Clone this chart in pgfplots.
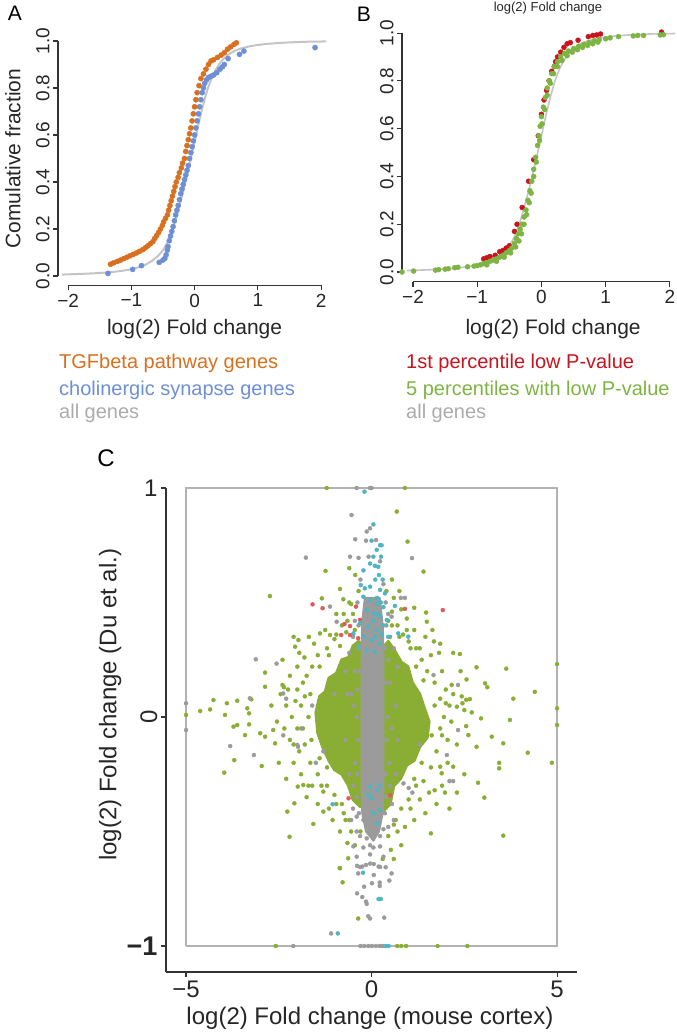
\documentclass[border=0pt]{standalone}
\usepackage{pgfplots}
\pgfplotsset{compat=1.18}
\usepackage{pgfplotstable}
\usepackage{fontspec}
\setmainfont{Liberation Sans}
\newcommand\fs[1]{\fontsize{#1}{#1}\selectfont}

\definecolor{tgf}{HTML}{D9701F}
\definecolor{chol}{HTML}{6C8FD6}
\definecolor{allc}{HTML}{C4C4C4}
\definecolor{allt}{HTML}{ABABAB}
\definecolor{pred}{HTML}{C8141E}
\definecolor{pgreen}{HTML}{7DB443}
\definecolor{cgreen}{HTML}{89AE33}
\definecolor{cgray}{HTML}{9B9B9B}
\definecolor{ccyan}{HTML}{4FB5C3}
\definecolor{cred}{HTML}{E05A5A}

\tikzset{axl/.style={line width=1.3pt, color=black!80}}
\pgfplotsset{rax/.style={scale only axis, clip=false,
  axis x line*=bottom, axis y line*=left, axis line style={draw=none},
  tick align=outside, major tick length=5pt, tick style={black!80, line width=1.1pt},
  ticklabel style={font=\fs{19}, text=black!85},
  label style={text=black!85}},
  cdot/.style={only marks, mark=*, mark size=2pt, mark options={draw=none}}}

% ECDF of all genes (grey curve, panels A and B)
\pgfplotstableread{
x y
-2.1 0.006
-1.9 0.008
-1.7 0.010
-1.5 0.013
-1.3 0.017
-1.1 0.024
-0.95 0.032
-0.8 0.045
-0.7 0.060
-0.6 0.080
-0.5 0.110
-0.4 0.160
-0.3 0.240
-0.2 0.340
-0.1 0.450
0.0 0.570
0.1 0.690
0.2 0.790
0.3 0.860
0.4 0.905
0.5 0.935
0.6 0.953
0.7 0.965
0.85 0.976
1.0 0.983
1.2 0.989
1.5 0.994
1.8 0.997
2.08 0.998
}\allgenes

\begin{document}
\begin{tikzpicture}
\useasboundingbox (0,0) rectangle (677pt,1034pt);

% ---------------- panel A
\begin{axis}[rax, at={(58pt,748.6pt)}, anchor=south west,
  width=273.2pt, height=253.8pt,
  xmin=-2.16, xmax=2.16, ymin=-0.04, ymax=1.04,
  xtick={-2,-1,0,1,2}, xticklabels={−2,−1,0,1,2},
  ytick={0,0.2,0.4,0.6,0.8,1}, yticklabels={0.0,0.2,0.4,0.6,0.8,1.0},
  yticklabel style={rotate=90, anchor=south},
  xlabel={log(2) Fold change}, ylabel={Comulative fraction},
  xlabel style={at={(axis description cs:0.5,-0.172)}, anchor=center, font=\fs{21}},
  ylabel style={at={(axis description cs:-0.165,0.5)}, anchor=center, font=\fs{21}},
]
\draw[axl] (axis cs:-2,-0.04) -- (axis cs:2,-0.04);
\draw[axl] (axis cs:-2.16,0) -- (axis cs:-2.16,1);
\addplot[only marks, mark=*, mark size=2.6pt, color=chol] coordinates {
(-1.37,0.011) (-0.98,0.028) (-0.84,0.044) (-0.56,0.058) (-0.50,0.068) (-0.47,0.075)
(-0.45,0.09) (-0.43,0.11) (-0.42,0.125) (-0.40,0.15) (-0.38,0.17) (-0.36,0.19)
(-0.34,0.21) (-0.32,0.235) (-0.30,0.26) (-0.28,0.28) (-0.26,0.30) (-0.24,0.325)
(-0.22,0.35) (-0.20,0.37) (-0.18,0.39) (-0.16,0.41) (-0.14,0.43) (-0.12,0.45)
(-0.10,0.47) (-0.08,0.50) (-0.06,0.525) (-0.04,0.55) (-0.02,0.575) (0.00,0.60)
(0.02,0.63) (0.04,0.66) (0.06,0.69) (0.08,0.72) (0.10,0.75) (0.12,0.78)
(0.14,0.80) (0.16,0.82) (0.19,0.835) (0.22,0.845) (0.26,0.85) (0.30,0.855)
(0.35,0.865) (0.40,0.88) (0.44,0.89) (0.47,0.90) (0.53,0.925) (0.71,0.943)
(0.78,0.957) (1.905,0.972)};
\addplot[only marks, mark=*, mark size=2.6pt, color=tgf] coordinates {
(-1.33,0.050) (-1.28,0.056) (-1.22,0.062) (-1.17,0.068) (-1.12,0.074) (-1.07,0.080)
(-1.02,0.086) (-0.97,0.092) (-0.92,0.098) (-0.87,0.105) (-0.82,0.112) (-0.78,0.120)
(-0.74,0.128) (-0.70,0.137) (-0.66,0.146) (-0.63,0.160) (-0.60,0.172) (-0.57,0.185)
(-0.54,0.200) (-0.51,0.215) (-0.49,0.230) (-0.46,0.245) (-0.43,0.260) (-0.41,0.280)
(-0.39,0.300) (-0.37,0.320) (-0.35,0.340) (-0.33,0.360) (-0.31,0.380) (-0.29,0.400)
(-0.26,0.420) (-0.24,0.440) (-0.21,0.460) (-0.19,0.480) (-0.16,0.500) (-0.14,0.530)
(-0.12,0.555) (-0.10,0.580) (-0.08,0.605) (-0.06,0.630) (-0.04,0.660) (-0.02,0.690)
(0.00,0.720) (0.02,0.750) (0.04,0.780) (0.07,0.810) (0.10,0.840) (0.14,0.860)
(0.18,0.880) (0.22,0.900) (0.26,0.915) (0.30,0.920) (0.36,0.930) (0.42,0.940)
(0.47,0.950) (0.52,0.965) (0.57,0.975) (0.62,0.985) (0.66,0.992)};
\addplot[smooth, color=allc, line width=2pt] table {\allgenes};
\end{axis}

% ---------------- panel B
\begin{axis}[rax, at={(402pt,752.4pt)}, anchor=south west,
  width=278.8pt, height=258.1pt,
  xmin=-2.171, xmax=2.17, ymin=-0.04, ymax=1.04,
  xtick={-2,-1,0,1,2}, xticklabels={−2,−1,0,1,2},
  ytick={0,0.2,0.4,0.6,0.8,1}, yticklabels={0.0,0.2,0.4,0.6,0.8,1.0},
  yticklabel style={rotate=90, anchor=south},
  xlabel={log(2) Fold change},
  xlabel style={at={(axis description cs:0.542,-0.184)}, anchor=center, font=\fs{21}},
]
\draw[axl] (axis cs:-2,-0.04) -- (axis cs:2,-0.04);
\draw[axl] (axis cs:-2.171,0) -- (axis cs:-2.171,1);
\addplot[only marks, mark=*, mark size=2.5pt, color=pred] coordinates {
(-0.90,0.055) (-0.85,0.060) (-0.80,0.065) (-0.72,0.070) (-0.65,0.085) (-0.60,0.090)
(-0.55,0.100) (-0.50,0.110) (-0.42,0.170) (-0.38,0.200) (-0.30,0.270) (-0.20,0.380)
(-0.12,0.470) (-0.05,0.570) (0.00,0.660) (0.04,0.720) (0.08,0.760) (0.12,0.800)
(0.16,0.840) (0.20,0.860) (0.22,0.880) (0.25,0.900) (0.30,0.920) (0.35,0.940)
(0.40,0.955) (0.45,0.960) (0.57,0.970) (0.73,0.985) (0.80,0.990) (0.86,0.992)
(0.92,0.996) (1.87,1.004)};
\addplot[only marks, mark=*, mark size=2.5pt, color=pgreen] coordinates {
(-2.17,0.0) (-1.99,0.004) (-1.65,0.008) (-1.60,0.010) (-1.50,0.012) (-1.45,0.014)
(-1.35,0.018) (-1.30,0.020) (-1.15,0.022) (-1.05,0.025) (-1.00,0.027) (-0.95,0.030)
(-0.90,0.035) (-0.85,0.040) (-0.80,0.045) (-0.75,0.050) (-0.70,0.055) (-0.65,0.062)
(-0.60,0.070) (-0.55,0.080) (-0.50,0.090) (-0.46,0.100) (-0.42,0.120) (-0.39,0.140)
(-0.36,0.160) (-0.33,0.180) (-0.30,0.200) (-0.27,0.230) (-0.24,0.260) (-0.21,0.300)
(-0.18,0.340) (-0.15,0.380) (-0.12,0.430) (-0.09,0.480) (-0.06,0.530) (-0.04,0.570)
(-0.02,0.610) (0.00,0.650) (0.03,0.690) (0.06,0.730) (0.09,0.770) (0.12,0.800)
(0.16,0.830) (0.20,0.860) (0.25,0.880) (0.30,0.900) (0.36,0.915) (0.42,0.925)
(0.50,0.935) (0.58,0.945) (0.66,0.953) (0.74,0.960) (0.82,0.967) (0.90,0.972)
(1.00,0.976) (1.07,0.980) (1.20,0.985) (1.43,0.988) (1.50,0.990) (1.59,0.990)
(1.85,0.992) (1.90,0.993)
(-0.85,0.030) (-0.70,0.045) (-0.58,0.062) (-0.48,0.080) (-0.40,0.105) (-0.35,0.130)
(-0.31,0.160) (-0.27,0.200) (-0.23,0.240) (-0.19,0.290) (-0.16,0.330) (-0.12,0.400)
(-0.08,0.460) (-0.03,0.550) (0.01,0.620) (0.05,0.680) (0.09,0.740) (0.14,0.790)
(0.19,0.830) (0.25,0.860) (0.32,0.885) (0.40,0.905) (0.48,0.920) (0.56,0.930)
(0.64,0.940) (0.72,0.948) (0.80,0.955) (0.88,0.962)};
\addplot[smooth, color=allc, line width=1.6pt] table {\allgenes};
\end{axis}

% ---------------- panel C
\begin{axis}[rax, at={(166pt,62pt)}, anchor=south west,
  width=411.1pt, height=510pt,
  xmin=-5.54, xmax=5.54, ymin=-1.1135, ymax=1.1135,
  xtick={-5,0,5}, xticklabels={−5,0,5},
  ytick={-1,0,1}, yticklabels={{\fs{27}\bfseries −1},\rotatebox{90}{0},1},
  ticklabel style={font=\fs{24}},
  xlabel={log(2) Fold change (mouse cortex)}, ylabel={log(2) Fold change (Du et al.)},
  xlabel style={at={(axis description cs:0.496,-0.090)}, anchor=center, font=\fs{24}},
  ylabel style={at={(axis description cs:-0.136,0.524)}, anchor=center, font=\fs{24}},
]
\draw[axl] (axis cs:-5.54,-1.1135) -- (axis cs:5.54,-1.1135);
\draw[axl] (axis cs:-5.54,-1.1135) -- (axis cs:-5.54,1);
\addplot[color=black!30, line width=1.2pt] coordinates {(-5,-1) (5,-1) (5,1) (-5,1) (-5,-1)};
% dense green cloud
\addplot[fill=cgreen, draw=cgreen, line width=3pt, line join=round] coordinates {
(-1.5,0.02) (-1.4,0.09) (-1.25,0.11) (-1.15,0.17) (-0.95,0.19) (-0.8,0.25) (-0.62,0.26)
(-0.5,0.31) (-0.35,0.33) (-0.2,0.3) (0.3,0.3) (0.45,0.33) (0.62,0.29) (0.8,0.24)
(0.98,0.22) (1.1,0.15) (1.3,0.1) (1.42,0.04) (1.55,-0.02) (1.5,-0.09) (1.3,-0.13)
(1.15,-0.19) (0.95,-0.21) (0.78,-0.27) (0.6,-0.3) (0.5,-0.38) (0.32,-0.41)
(-0.32,-0.39) (-0.5,-0.36) (-0.62,-0.3) (-0.8,-0.25) (-1.0,-0.23) (-1.15,-0.19)
(-1.32,-0.13) (-1.45,-0.07) (-1.5,0.02)};
\addplot[cdot, color=cgreen] coordinates {
(-1.21,1.0) (0.90,1.0) (0.68,0.897) (0.97,0.766) (1.40,0.635) (-1.24,0.638) (-2.74,0.528)
(-1.34,0.518) (-0.85,0.559) (-0.76,0.514) (-0.55,0.493) (-0.44,0.62) (1.47,0.456)
(1.49,0.416) (1.15,0.477) (1.64,0.38) (1.68,0.33) (1.82,0.28) (2.38,0.275) (2.83,0.217)
(3.63,0.211) (5.0,0.231) (5.0,0.038) (5.0,-0.035) (3.06,0.147) (3.12,0.13) (3.82,0.08)
(4.4,0.11) (2.56,0.164) (2.16,0.14) (2.43,0.09) (2.55,0.075) (2.65,0.078) (2.3,0.045)
(2.5,0.03) (2.95,-0.006) (3.73,-0.013) (3.24,-0.086) (3.55,-0.115) (4.21,-0.156)
(4.86,-0.2) (3.44,-0.2) (3.44,-0.224) (2.61,-0.079) (2.83,-0.13) (2.2,-0.217)
(1.89,-0.246) (1.85,-0.217) (2.87,-0.287) (3.04,-0.352) (1.98,-0.33) (1.6,-0.508)
(3.55,-0.518) (0.52,-0.58) (-0.85,-0.66) (-0.63,-0.617) (-2.21,-0.523) (-1.57,-0.467)
(-2.27,-0.413) (-2.08,-0.377) (-1.30,-0.413) (-1.99,-0.304) (-1.84,-0.297)
(-1.30,-0.326) (-3.97,-0.243) (-3.70,-0.188) (-2.96,-0.214) (-3.41,-0.079)
(-3.72,-0.042) (-3.62,-0.035) (-3.30,-0.032) (-3.30,0.016) (-3.95,0.009) (-4.62,0.026)
(-4.35,0.033) (-5.0,0.009) (-4.26,0.074) (-3.90,0.06) (-3.62,0.071) (-3.35,0.038)
(-3.24,0.077) (-2.87,0.194) (-2.87,0.132) (-3.0,-0.071) (-2.87,-0.086) (-2.65,-0.057)
(-2.60,-0.115) (-2.4,0.14) (-2.36,0.13) (-2.1,0.35) (-1.97,0.336) (-2.06,0.307)
(-1.81,0.26) (-1.69,0.35) (-1.39,0.365) (-1.12,0.358)
(-0.86,-0.66) (-0.78,-0.722) (-0.36,-0.88) (-0.45,-0.56) (0.45,-0.52) (0.3,-0.62)
(-0.55,-0.5) (0.6,-0.47) (-0.7,-0.45)
(-1.9,0.05) (-1.85,-0.05) (-2.0,0.12) (-1.75,0.18) (-1.6,0.22) (-1.45,0.27) (-1.2,0.3)
(-1.0,0.34) (-0.8,0.4) (-0.65,0.42) (-0.5,0.45) (-0.45,0.38) (0.45,0.42) (0.55,0.46)
(0.7,0.4) (0.85,0.36) (1.0,0.33) (1.2,0.3) (1.35,0.25) (1.5,0.2) (1.7,0.15) (1.85,0.08)
(1.95,0.0) (1.9,-0.08) (1.75,-0.15) (1.6,-0.22) (1.4,-0.28) (1.2,-0.3) (1.0,-0.36)
(0.8,-0.4) (0.65,-0.45) (-0.6,-0.45) (-0.8,-0.38) (-1.0,-0.34) (-1.2,-0.3) (-1.45,-0.25)
(-1.65,-0.2) (-1.8,-0.12) (-2.0,-0.05) (-2.15,0.0) (-2.2,-0.1) (-2.3,0.05) (2.1,0.05)
(2.05,-0.1) (1.9,0.2) (-2.0,0.22) (-1.7,-0.3) (1.7,-0.32) (-0.95,0.45) (0.95,0.43)
(-0.3,-0.5) (0.4,0.55) (-0.35,0.55) (0.55,0.6) (-0.6,0.65) (0.75,0.55)
(-2.4,0.25) (-2.2,0.18) (-1.95,0.28) (-1.85,0.15) (-1.55,0.32) (-1.4,0.22) (-1.25,0.38)
(-1.15,0.27) (-0.95,0.36) (-0.85,0.31) (-0.75,0.45) (-0.68,0.37) (-0.6,0.5) (-0.5,0.28)
(-2.7,0.05) (-2.55,-0.02) (-2.45,0.1) (-2.35,-0.05) (-2.25,0.12) (-2.1,-0.12) (-2.05,0.07)
(-1.95,-0.15) (-1.8,0.09) (-1.7,0.0) (-1.62,-0.1) (-1.65,0.1)
(-2.5,-0.2) (-2.3,-0.27) (-2.1,-0.2) (-1.9,-0.25) (-1.75,-0.35) (-1.6,-0.3) (-1.45,-0.38)
(-1.35,-0.3) (-1.15,-0.4) (-1.05,-0.45) (-0.95,-0.38) (-0.85,-0.5) (-0.75,-0.42)
(-0.65,-0.55) (-1.4,-0.18) (-1.2,-0.22)
(2.4,0.2) (2.2,0.28) (2.0,0.12) (1.85,0.32) (1.6,0.27) (1.45,0.35) (1.3,0.3) (1.15,0.38)
(1.05,0.3) (0.95,0.38) (0.8,0.47) (0.75,0.35) (0.6,0.52) (0.55,0.4) (1.4,0.16) (1.2,0.22)
(2.7,0.02) (2.55,-0.04) (2.45,0.06) (2.3,-0.12) (2.2,0.1) (2.15,-0.02) (2.0,0.06)
(2.05,-0.2) (1.85,-0.05) (1.7,0.05) (1.62,-0.08)
(2.5,-0.25) (2.3,-0.33) (2.1,-0.4) (1.9,-0.3) (1.75,-0.38) (1.55,-0.33) (1.45,-0.42)
(1.3,-0.36) (1.15,-0.45) (1.05,-0.4) (0.9,-0.48) (0.8,-0.56) (0.7,-0.5) (0.6,-0.62)
(1.35,-0.2) (1.15,-0.27)
(-2.58,-1) (0.69,-1) (0.80,-1) (0.93,-1) (1.78,-1) (2.58,-1)};
% dense grey core
\addplot[fill=cgray, draw=cgray, line width=2pt, line join=round] coordinates {
(-0.27,0.30) (-0.25,0.42) (-0.18,0.52) (0.22,0.52) (0.3,0.40) (0.32,0.30)
(0.32,-0.30) (0.30,-0.42) (0.20,-0.50) (0.05,-0.54) (-0.15,-0.50) (-0.25,-0.42)
(-0.27,-0.30) (-0.27,0.30)};
\addplot[cdot, color=cgray] coordinates {
(-0.40,1.0) (-0.04,1.0) (0.0,1.0) (-0.54,0.882) (-0.13,0.81) (-0.04,0.824) (-0.44,0.776)
(-0.15,0.77) (0.12,0.773) (-0.58,0.70) (-0.35,0.695) (-0.08,0.70) (0.23,0.68)
(-1.77,0.696) (1.09,0.694) (0.79,0.52) (0.90,0.52) (0.54,0.438) (-1.12,0.482)
(-0.94,0.416) (-0.3,0.6) (0.32,0.58) (-0.38,0.5) (0.38,0.5) (-0.45,0.42) (0.45,0.45)
(-0.5,0.35) (0.5,0.35) (0.6,0.3) (-0.6,0.28) (-0.7,0.2) (0.7,0.22) (-0.65,0.1)
(0.65,0.05) (-0.7,-0.1) (0.7,-0.1) (-0.6,-0.25) (0.65,-0.25) (-0.5,-0.4) (0.55,-0.38)
(-0.4,-0.5) (0.45,-0.48) (0.6,-0.45) (-0.55,-0.45)
(-0.45,0.2) (-0.4,0.0) (-0.45,-0.2) (-0.4,-0.35) (0.45,0.25) (0.42,0.0) (0.48,-0.2)
(0.4,-0.35) (-0.55,0.1) (0.55,-0.05) (-0.5,-0.3) (0.5,0.15) (-0.35,0.3) (0.4,0.4)
(-0.35,0.4) (-0.38,0.12) (-0.36,-0.1) (-0.38,-0.25) (0.38,0.15) (0.4,-0.1) (0.38,-0.25)
(-0.33,0.2) (0.36,0.3) (-0.34,-0.42) (0.36,-0.42) (-0.48,0.05) (0.5,-0.3)
(-2.56,0.233) (-3.12,0.252) (-3.28,0.082) (-5,0.06) (-5,-0.057) (-3.81,-0.127)
(-3.17,-0.166) (-2.38,0.103) (-2.3,0.08) (-2.38,-0.08) (-2.0,-0.122) (-1.98,-0.13)
(1.67,0.183) (2.33,0.14) (2.33,-0.057) (2.03,-0.166) (2.1,-0.28) (2.2,-0.28)
(0.86,-0.29) (1.0,-0.31) (1.1,-0.33) (-1.6,0.05) (-1.9,-0.05) (-1.3,-0.15) (-1.5,-0.2)
(1.3,-0.12) (-1.0,0.1)
(-0.4,-0.435) (-0.22,-0.45) (-0.04,-0.56) (0.14,-0.48) (0.32,-0.49) (-0.31,-0.52)
(-0.13,-0.53) (0.05,-0.57) (0.23,-0.52) (-0.49,-0.565) (-0.22,-0.57) (0.23,-0.565)
(-0.4,-0.61) (-0.04,-0.6) (0.32,-0.61) (-0.31,-0.655) (-0.04,-0.64) (0.23,-0.655)
(-1.09,-0.945) (-0.09,-0.87) (-0.04,-0.88) (0.34,-0.876) (-0.39,-0.77) (-0.25,-0.786)
(-0.15,-0.806) (-0.13,-0.816) (0.48,-0.714) (0.22,-0.723) (0.22,-0.738) (-0.39,-0.65)
(-0.25,-0.653) (-0.15,-0.646) (0.06,-0.642) (0.19,-0.653) (0.38,-0.656) (0.54,-0.683)
(-0.2,-0.741) (0.01,-0.726) (-0.36,-0.683) (0.06,-0.69)
(-2.11,-1) (-0.30,-1) (-0.2,-1) (-0.09,-1) (0.01,-1) (0.12,-1) (0.22,-1) (0.3,-1)};
\addplot[cdot, color=cred] coordinates {
(-1.59,0.492) (-1.32,0.475) (1.92,0.467) (0.90,0.472) (-0.73,0.406) (-0.58,0.397)
(-0.82,0.358) (-0.58,0.358) (-0.42,0.482) (-0.31,0.424) (-0.62,-0.355) (0.50,-0.341)
(-0.36,0.344)};
\addplot[cdot, color=ccyan] coordinates {
(-0.19,0.984) (0.05,0.841) (0.0,0.77) (0.23,0.75) (0.14,0.73) (0.05,0.70) (0.27,0.75)
(0.256,0.70) (-0.22,0.64) (-0.04,0.67) (0.09,0.66) (0.18,0.656) (-0.29,0.576)
(-0.18,0.562) (-0.04,0.569) (0.23,0.555) (0.36,0.54) (-0.22,0.525) (-0.04,0.51)
(0.14,0.496) (0.32,0.48) (0.63,0.485) (-0.13,0.467) (0.05,0.453) (0.23,0.438)
(0.41,0.424) (-0.31,0.41) (-0.09,0.394) (0.14,0.38) (0.32,0.40) (-0.49,0.365)
(-0.22,0.351) (0.0,0.336) (0.23,0.32) (-0.35,0.307) (-0.13,0.29) (0.09,0.285)
(0.72,0.365) (0.99,0.351) (0.45,0.35) (0.1,0.6) (0.2,0.62) (0.3,0.6) (0.15,0.52)
(0.25,0.5) (0.05,0.42) (0.18,0.45) (0.28,0.36) (0.1,0.35)
(-0.04,-0.304) (0.14,-0.319) (0.23,-0.297) (-0.09,-0.34) (0.0,-0.355) (0.23,-0.406)
(0.05,-0.42) (-1.05,-0.381) (0.14,-0.464) (-0.91,-0.945) (0.19,-0.795) (0.25,-0.795)
(0.38,-1) (0.46,-1) (-0.23,-0.68)};
\end{axis}

% ---------------- panel letters, title, legends
\node[font=\fs{21}, inner sep=0] at (15pt,1021pt) {A};
\node[font=\fs{21}, inner sep=0] at (364pt,1019.5pt) {B};
\node[font=\fs{24}, inner sep=0] at (106pt,576pt) {C};
\node[font=\fs{13}, inner sep=0, text=black!85] at (548pt,1026pt) {log(2) Fold change};
\begin{scope}[every node/.style={anchor=west, inner sep=0, font=\fs{20}}]
\node[text=tgf] at (59pt,671pt) {TGFbeta pathway genes};
\node[text=chol] at (59pt,644pt) {cholinergic synapse genes};
\node[text=allt] at (59pt,621pt) {all genes};
\node[text=pred] at (406pt,671pt) {1st percentile low P-value};
\node[text=pgreen] at (406pt,644pt) {5 percentiles with low P-value};
\node[text=allt] at (406pt,621pt) {all genes};
\end{scope}
\end{tikzpicture}
\end{document}
